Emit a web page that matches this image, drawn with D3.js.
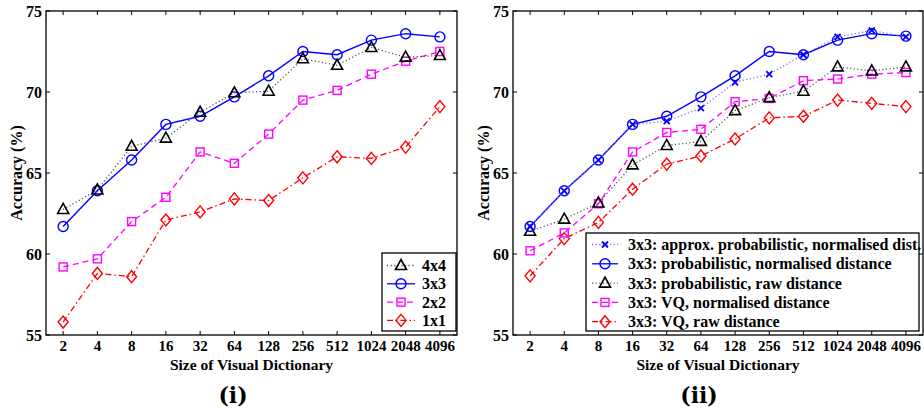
<!DOCTYPE html>
<html>
<head>
<meta charset="utf-8">
<script src="https://cdn.jsdelivr.net/npm/d3@7"></script>
<style>
  body { margin: 0; background: #fff; }
</style>
</head>
<body>
<svg id="chart" width="924" height="408"></svg>
<script>
// dictionary sizes (x categories)
const sizes = ["2", "4", "8", "16", "32", "64", "128", "256", "512", "1024", "2048", "4096"];
const yTicks = [55, 60, 65, 70, 75];

// panel (i): patch sizes
const s4x4 = [62.75, 63.95, 66.65, 67.15, 68.75, 69.95, 70.05, 72.05, 71.65, 72.75, 72.15, 72.25];
const s3x3 = [61.7, 63.9, 65.8, 68.0, 68.5, 69.7, 71.0, 72.5, 72.3, 73.2, 73.6, 73.4];
const s2x2 = [59.2, 59.7, 62.0, 63.5, 66.3, 65.6, 67.4, 69.5, 70.1, 71.1, 71.9, 72.5];
const s1x1 = [55.8, 58.8, 58.6, 62.1, 62.6, 63.4, 63.3, 64.7, 66.0, 65.9, 66.6, 69.1];

// panel (ii): 3x3 variants
const approxProbNorm = [61.7, 63.9, 65.8, 68.0, 68.2, 69.0, 70.6, 71.1, 72.3, 73.4, 73.8, 73.4];
const probNorm = [61.7, 63.9, 65.8, 68.0, 68.5, 69.7, 71.0, 72.5, 72.3, 73.2, 73.6, 73.45];
const probRaw = [61.4, 62.15, 63.15, 65.5, 66.7, 66.95, 68.85, 69.65, 70.05, 71.55, 71.3, 71.55];
const vqNorm = [60.2, 61.3, 63.1, 66.3, 67.5, 67.7, 69.4, 69.6, 70.7, 70.8, 71.1, 71.2];
const vqRaw = [58.65, 60.95, 61.95, 64.0, 65.55, 66.05, 67.1, 68.4, 68.5, 69.5, 69.3, 69.1];

const FONT = "'Liberation Serif', 'Nimbus Roman', 'DejaVu Serif', serif";

const styles = {
  tri:   { color: "#000", lineColor: "#555", dash: "1.2,2.4", marker: "triangle" },
  circ:  { color: "#0000ff", lineColor: "#0000ff", dash: null, marker: "circle" },
  sq:    { color: "#ff00ff", lineColor: "#ff00ff", dash: "6,4", marker: "square" },
  dia:   { color: "#ff0000", lineColor: "#ff0000", dash: "6,3,1.5,3", marker: "diamond" },
  cross: { color: "#0000ff", lineColor: "#6f6fff", dash: "1.2,2.4", marker: "cross" }
};

const panelI = [
  { name: "4x4", values: s4x4, st: styles.tri },
  { name: "3x3", values: s3x3, st: styles.circ },
  { name: "2x2", values: s2x2, st: styles.sq },
  { name: "1x1", values: s1x1, st: styles.dia }
];
const panelII = [
  { name: "3x3: approx. probabilistic, normalised dist.", values: approxProbNorm, st: styles.cross },
  { name: "3x3: probabilistic, normalised distance", values: probNorm, st: styles.circ },
  { name: "3x3: probabilistic, raw distance", values: probRaw, st: styles.tri },
  { name: "3x3: VQ, normalised distance", values: vqNorm, st: styles.sq },
  { name: "3x3: VQ, raw distance", values: vqRaw, st: styles.dia }
];

const svg = d3.select("#chart");

function drawMarker(g, type, x, y, color) {
  if (type === "circle") {
    g.append("circle").attr("cx", x).attr("cy", y).attr("r", 5)
      .attr("fill", "none").attr("stroke", color).attr("stroke-width", 1.4);
  } else if (type === "square") {
    g.append("rect").attr("x", x - 4).attr("y", y - 4).attr("width", 8).attr("height", 8)
      .attr("fill", "none").attr("stroke", color).attr("stroke-width", 1.4);
  } else if (type === "triangle") {
    g.append("path").attr("d", `M${x},${y - 6}L${x + 5.5},${y + 4}L${x - 5.5},${y + 4}Z`)
      .attr("fill", "none").attr("stroke", color).attr("stroke-width", 1.6);
  } else if (type === "diamond") {
    g.append("path").attr("d", `M${x},${y - 6}L${x + 5},${y}L${x},${y + 6}L${x - 5},${y}Z`)
      .attr("fill", "none").attr("stroke", color).attr("stroke-width", 1.4);
  } else if (type === "cross") {
    g.append("path").attr("d", `M${x - 3},${y - 3}L${x + 3},${y + 3}M${x - 3},${y + 3}L${x + 3},${y - 3}`)
      .attr("fill", "none").attr("stroke", color).attr("stroke-width", 1.8);
  }
}

function drawPanel(left, right, series, legendBox, label, labelX) {
  const top = 11, bottom = 335;
  const x = d3.scaleLinear().domain([-0.5, sizes.length - 0.5]).range([left, right]);
  const y = d3.scaleLinear().domain([55, 75]).range([bottom, top]);
  const g = svg.append("g").attr("font-family", FONT);

  // frame
  g.append("rect").attr("x", left).attr("y", top).attr("width", right - left).attr("height", bottom - top)
    .attr("fill", "none").attr("stroke", "#000").attr("stroke-width", 1.3);

  // x ticks (bottom and top, inward)
  sizes.forEach((s, i) => {
    const xp = x(i);
    g.append("line").attr("x1", xp).attr("x2", xp).attr("y1", bottom).attr("y2", bottom - 4)
      .attr("stroke", "#000").attr("stroke-width", 1);
    g.append("line").attr("x1", xp).attr("x2", xp).attr("y1", top).attr("y2", top + 4)
      .attr("stroke", "#000").attr("stroke-width", 1);
    g.append("text").attr("x", xp).attr("y", 351).attr("text-anchor", "middle")
      .attr("font-size", 15).attr("font-weight", "bold").text(s);
  });
  // y ticks
  yTicks.forEach(v => {
    const yp = y(v);
    g.append("line").attr("x1", left).attr("x2", left + 4).attr("y1", yp).attr("y2", yp)
      .attr("stroke", "#000").attr("stroke-width", 1);
    g.append("line").attr("x1", right).attr("x2", right - 4).attr("y1", yp).attr("y2", yp)
      .attr("stroke", "#000").attr("stroke-width", 1);
    g.append("text").attr("x", left - 4).attr("y", yp + 5.5).attr("text-anchor", "end")
      .attr("font-size", 16).attr("font-weight", "bold").text(v);
  });

  // axis titles
  g.append("text").attr("x", (left + right) / 2).attr("y", 370).attr("text-anchor", "middle")
    .attr("font-size", 15.5).attr("font-weight", "bold").text("Size of Visual Dictionary");
  g.append("text").attr("transform", `translate(${left - 24},${(top + bottom) / 2}) rotate(-90)`)
    .attr("text-anchor", "middle").attr("font-size", 16).attr("font-weight", "bold").text("Accuracy (%)");

  // panel label
  svg.append("text").attr("x", labelX).attr("y", 403).attr("text-anchor", "middle")
    .attr("font-size", 22).attr("font-weight", "600")
    .attr("font-family", "'DejaVu Serif', serif").text(label);

  const line = d3.line().x((d, i) => x(i)).y(d => y(d));

  // draw series in reverse so first legend item sits on top
  series.slice().reverse().forEach(s => {
    g.append("path").datum(s.values).attr("d", line).attr("fill", "none")
      .attr("stroke", s.st.lineColor).attr("stroke-width", s.st.dash ? 1.3 : 1.4)
      .attr("stroke-dasharray", s.st.dash);
    s.values.forEach((v, i) => drawMarker(g, s.st.marker, x(i), y(v), s.st.color));
  });

  // legend
  const lg = svg.append("g").attr("font-family", FONT);
  lg.append("rect").attr("x", legendBox.x).attr("y", legendBox.y).attr("width", legendBox.w).attr("height", legendBox.h)
    .attr("fill", "#fff").attr("stroke", "#000").attr("stroke-width", 1.3);
  series.forEach((s, i) => {
    const yy = legendBox.y + legendBox.first + i * legendBox.step;
    lg.append("line").attr("x1", legendBox.x + legendBox.lx1).attr("x2", legendBox.x + legendBox.lx2)
      .attr("y1", yy).attr("y2", yy).attr("stroke", s.st.lineColor).attr("stroke-width", 1.3)
      .attr("stroke-dasharray", s.st.dash);
    drawMarker(lg, s.st.marker, legendBox.x + (legendBox.lx1 + legendBox.lx2) / 2, yy, s.st.color);
    lg.append("text").attr("x", legendBox.x + legendBox.tx).attr("y", yy + 5.5)
      .attr("font-size", legendBox.fs).attr("font-weight", "bold").text(s.name);
  });
}

drawPanel(46, 457, panelI,
  { x: 382, y: 253, w: 74, h: 78, first: 12.5, step: 18.3, lx1: 5, lx2: 33, tx: 40, fs: 16 },
  "(i)", 233);
drawPanel(513, 923, panelII,
  { x: 586, y: 233, w: 333, h: 98, first: 11.5, step: 19.3, lx1: 6, lx2: 32, tx: 42, fs: 16 },
  "(ii)", 699);
</script>
</body>
</html>
